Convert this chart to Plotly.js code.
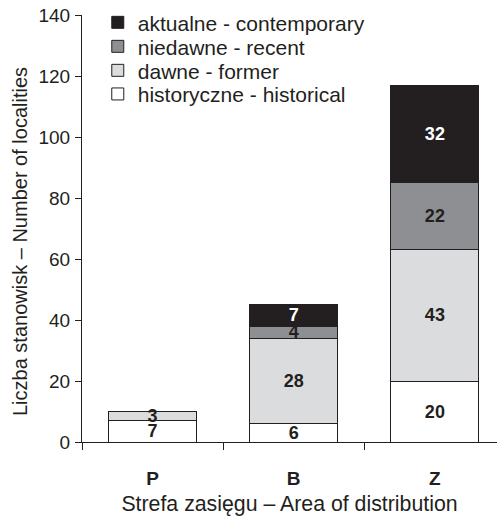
<!DOCTYPE html>
<html>
<head>
<meta charset="utf-8">
<script src="https://cdn.plot.ly/plotly-3.0.1.min.js"></script>
<style>html,body{margin:0;padding:0;background:#fff;overflow:hidden;}</style>
</head>
<body>
<div id="chart" style="width:497px;height:516px;"></div>
<script>
const categories = ['P', 'B', 'Z'];
const historical = [7, 6, 20];
const former = [3, 28, 43];
const recent = [null, 4, 22];
const contemporary = [null, 7, 32];
const seriesNames = ['historyczne - historical', 'dawne - former', 'niedawne - recent', 'aktualne - contemporary'];
const yTickValues = [0, 20, 40, 60, 80, 100, 120, 140];
const xTitle = 'Strefa zasięgu – Area of distribution';
const yTitle = 'Liczba stanowisk – Number of localities';

const fillColors = ['#ffffff', '#dbdcde', '#8e8f92', '#231f20'];
const textColors = ['#231f20', '#231f20', '#231f20', '#ffffff'];
const seriesValues = [historical, former, recent, contemporary];
const legendIds = ['legend4', 'legend3', 'legend2', 'legend'];
const legendY = [0.8143, 0.8696, 0.9258, 0.982];
const FONT = 'Liberation Sans, Arial, sans-serif';

const traces = seriesValues.map((vals, i) => ({
  type: 'bar',
  x: categories,
  y: vals,
  name: seriesNames[i],
  legend: legendIds[i],
  marker: {color: fillColors[i], line: {color: '#231f20', width: 1}},
  texttemplate: '%{y}',
  textposition: 'inside',
  insidetextanchor: 'middle',
  textangle: 0,
  constraintext: 'none',
  textfont: {family: FONT, size: 18, weight: 'bold', color: textColors[i]},
  hoverinfo: 'x+y+name'
}));

function legendBox(y) {
  return {
    x: 0.038, xanchor: 'left',
    y: y, yanchor: 'middle',
    font: {family: FONT, size: 21, color: '#231f20'},
    bgcolor: 'rgba(0,0,0,0)',
    borderwidth: 0
  };
}

const layout = {
  width: 497,
  height: 516,
  margin: {l: 82, r: 0, t: 15, b: 74, pad: 0},
  paper_bgcolor: '#ffffff',
  plot_bgcolor: '#ffffff',
  barmode: 'stack',
  bargap: 0.376,
  font: {family: FONT, color: '#231f20'},
  showlegend: true,
  legend: legendBox(legendY[3]),
  legend2: legendBox(legendY[2]),
  legend3: legendBox(legendY[1]),
  legend4: legendBox(legendY[0]),
  xaxis: {
    type: 'category',
    range: [-0.5, 2.44],
    tickson: 'boundaries',
    ticks: 'outside',
    ticklen: 7,
    tickcolor: '#231f20',
    showline: true,
    linecolor: '#231f20',
    linewidth: 1,
    showgrid: false,
    showdividers: false,
    zeroline: false,
    tickfont: {family: FONT, size: 19, weight: 'bold', color: '#231f20'},
    ticklabelstandoff: 19,
    title: {text: xTitle, font: {family: FONT, size: 21.3, color: '#231f20'}, standoff: 19},
    fixedrange: true
  },
  yaxis: {
    range: [0, 140],
    tickvals: yTickValues,
    ticktext: yTickValues.map(String),
    ticks: 'outside',
    ticklen: 6,
    tickcolor: '#231f20',
    showline: true,
    linecolor: '#231f20',
    linewidth: 1,
    showgrid: false,
    zeroline: false,
    mirror: false,
    ticklabelstandoff: 1,
    tickfont: {family: FONT, size: 19, color: '#231f20'},
    fixedrange: true
  },
  annotations: [{
    text: yTitle,
    xref: 'paper', yref: 'paper',
    x: -0.1494, y: 0.4707,
    xanchor: 'center', yanchor: 'middle',
    textangle: -90,
    showarrow: false,
    font: {family: FONT, size: 20, color: '#231f20'}
  }]
};

Plotly.newPlot('chart', traces, layout, {displayModeBar: false, staticPlot: true});
</script>
</body>
</html>
